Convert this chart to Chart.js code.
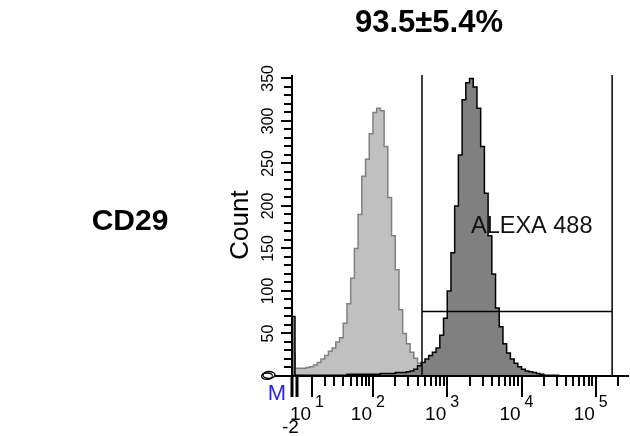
<!DOCTYPE html>
<html>
<head>
<meta charset="utf-8">
<script src="https://cdn.jsdelivr.net/npm/chart.js@4.4.0/dist/chart.umd.min.js"></script>
<style>
  html, body { margin: 0; padding: 0; background: #fff; }
  #contenedor { width: 630px; height: 436px; position: relative; }
</style>
</head>
<body>
<div id="contenedor"><canvas id="histograma"></canvas></div>
<script>
// bordes de los canales (unidades log10 del eje)
const binEdges = [
  0.90, 0.95, 1.00, 1.05, 1.10, 1.15, 1.20, 1.25, 1.30, 1.35,
  1.40, 1.45, 1.50, 1.55, 1.60, 1.65, 1.70, 1.75, 1.80, 1.85,
  1.90, 1.95, 2.00, 2.05, 2.10, 2.15, 2.20, 2.25, 2.30, 2.35,
  2.40, 2.45, 2.50, 2.55, 2.60, 2.65, 2.70, 2.75, 2.80, 2.85,
  2.90, 2.95, 3.00, 3.05, 3.10, 3.15, 3.20, 3.25, 3.30, 3.35,
  3.40, 3.45, 3.50, 3.55, 3.60, 3.65, 3.70, 3.75, 3.80, 3.85,
  3.90, 3.95, 4.00, 4.05, 4.10, 4.15, 4.20, 4.25, 4.30, 4.35,
  4.40, 4.45, 4.50
];
// control de isotipo (gris claro)
const isotypeCounts = [
  28, 9, 9, 9, 10, 11, 13, 16, 20, 24,
  29, 33, 40, 45, 62, 85, 115, 150, 190, 235,
  255, 285, 310, 315, 312, 270, 210, 165, 125, 78,
  50, 38, 28, 21, 15, 12, 10, 8, 7, 6,
  4, 3, 2, 1, 0
];
// CD29 ALEXA 488 (gris oscuro)
const cd29Counts = [
  70, 1, 1, 1, 1, 1, 1, 1, 1, 1,
  1, 1, 1, 1, 1, 2, 2, 2, 2, 2,
  2, 2, 2, 2, 3, 3, 3, 3, 4, 4,
  4, 5, 6, 8, 12, 16, 20, 24, 28, 33,
  48, 68, 100, 145, 200, 260, 325, 345, 350, 340,
  315, 270, 215, 165, 120, 80, 58, 38, 27, 20,
  15, 11, 8, 6, 5, 4, 3, 2, 1, 1,
  1, 1, 0
];

const gateLow = 2.66;
const gateHigh = 5.22;
const gateCount = 76;
const markerPos = 0.60;

const xMin = 0.91, xMax = 5.42;
const yMax = 354;
const yTickLabels = [0, 50, 100, 150, 200, 250, 300, 350];
const xMajorPos = [1.18, 2, 3, 4, 5];
const xMajorExp = ['1', '2', '3', '4', '5'];
const xFirstDecadeMinor = [1.36, 1.48, 1.60, 1.70, 1.78, 1.85, 1.90, 1.95];
const xZeroTicks = [0.915, 0.975];

const fuente = '"Liberation Sans", Arial, sans-serif';

const puntos = (conteos) => conteos.map((c, i) => ({ x: binEdges[i], y: c }));

const dibujarEjes = {
  id: 'dibujarEjes',
  afterDraw(chart) {
    const ctx = chart.ctx;
    const xs = chart.scales.x;
    const ys = chart.scales.y;
    const area = chart.chartArea;
    const base = Math.round(ys.getPixelForValue(0));
    ctx.save();
    ctx.strokeStyle = '#000';
    ctx.fillStyle = '#000';
    ctx.lineWidth = 2;

    // eje Y
    ctx.beginPath();
    ctx.moveTo(area.left, ys.getPixelForValue(yMax));
    ctx.lineTo(area.left, base + 1);
    ctx.stroke();
    for (let v = 0; v <= 350; v += 10) {
      const py = Math.round(ys.getPixelForValue(v));
      const len = v % 50 === 0 ? 11 : 8;
      ctx.beginPath();
      ctx.moveTo(area.left - len, py);
      ctx.lineTo(area.left, py);
      ctx.stroke();
    }
    ctx.font = '16px ' + fuente;
    ctx.textAlign = 'center';
    ctx.textBaseline = 'middle';
    yTickLabels.forEach(v => {
      const py = ys.getPixelForValue(v);
      ctx.save();
      ctx.translate(area.left - 23, py);
      ctx.rotate(-Math.PI / 2);
      ctx.fillText(String(v), 0, 0);
      ctx.restore();
    });

    // eje X
    const mx = xs.getPixelForValue(markerPos);
    ctx.beginPath();
    ctx.moveTo(mx + 6, base);
    ctx.lineTo(area.right + 2, base);
    ctx.stroke();
    ctx.lineWidth = 1.5;
    ctx.beginPath();
    ctx.ellipse(mx, base - 1, 6, 3.5, 0, 0, Math.PI * 2);
    ctx.stroke();
    ctx.lineWidth = 2;

    const marca = (pos, len, w) => {
      const px = Math.round(xs.getPixelForValue(pos));
      ctx.lineWidth = w;
      ctx.beginPath();
      ctx.moveTo(px, base);
      ctx.lineTo(px, base + len);
      ctx.stroke();
    };
    xZeroTicks.forEach(p => marca(p, 21, 3));
    xFirstDecadeMinor.forEach(p => marca(p, 10, 2));
    for (let d = 2; d <= 4; d++) {
      for (let k = 2; k <= 9; k++) marca(d + Math.log10(k), 10, 2);
    }
    marca(5 + Math.log10(2), 10, 2);
    xMajorPos.forEach(p => marca(p, 21, 2));

    xMajorPos.forEach((p, i) => {
      const px = xs.getPixelForValue(p);
      ctx.font = '19px ' + fuente;
      ctx.textAlign = 'right';
      ctx.textBaseline = 'alphabetic';
      ctx.fillText('10', px - 1, base + 44);
      ctx.font = '16px ' + fuente;
      ctx.textAlign = 'left';
      ctx.fillText(xMajorExp[i], px + 3, base + 31);
    });
    ctx.font = '19px ' + fuente;
    ctx.textAlign = 'center';
    ctx.fillText('-2', xs.getPixelForValue(xZeroTicks[0]) - 2, base + 57);

    ctx.fillStyle = '#1f1fff';
    ctx.font = '22px ' + fuente;
    ctx.textBaseline = 'middle';
    ctx.fillText('M', mx + 8, base + 18);

    // textos
    ctx.fillStyle = '#000';
    ctx.font = 'bold 31px ' + fuente;
    ctx.textAlign = 'center';
    ctx.fillText('93.5±5.4%', 429, 23);
    ctx.font = 'bold 30px ' + fuente;
    ctx.fillText('CD29', 130, 222);

    ctx.font = '26px ' + fuente;
    ctx.save();
    ctx.translate(241, 225);
    ctx.rotate(-Math.PI / 2);
    ctx.fillText('Count', 0, 0);
    ctx.restore();

    ctx.fillStyle = '#111';
    ctx.font = '23.5px ' + fuente;
    ctx.textAlign = 'left';
    ctx.fillText('ALEXA 488', 471, 227);
    ctx.restore();
  }
};

const ctxHist = document.getElementById('histograma').getContext('2d');
const histograma = new Chart(ctxHist, {
  type: 'line',
  data: {
    datasets: [
      {
        label: 'Gate izq',
        data: [{ x: gateLow, y: yMax }, { x: gateLow, y: 0 }],
        borderColor: '#000', borderWidth: 1.5, pointRadius: 0, fill: false, order: 0
      },
      {
        label: 'Gate der',
        data: [{ x: gateHigh, y: yMax }, { x: gateHigh, y: 0 }],
        borderColor: '#000', borderWidth: 1.5, pointRadius: 0, fill: false, order: 0
      },
      {
        label: 'Gate barra',
        data: [{ x: gateLow, y: gateCount }, { x: gateHigh, y: gateCount }],
        borderColor: '#000', borderWidth: 1.5, pointRadius: 0, fill: false, order: 0
      },
      {
        label: 'CD29',
        data: puntos(cd29Counts),
        stepped: true,
        fill: 'origin',
        backgroundColor: '#808080',
        borderColor: '#000',
        borderWidth: 1.5,
        pointRadius: 0,
        order: 1
      },
      {
        label: 'Isotipo',
        data: puntos(isotypeCounts),
        stepped: true,
        fill: 'origin',
        backgroundColor: '#c0c0c0',
        borderColor: '#808080',
        borderWidth: 1.5,
        pointRadius: 0,
        order: 2
      }
    ]
  },
  options: {
    responsive: true,
    maintainAspectRatio: false,
    animation: false,
    layout: { padding: { left: 292, right: 3, top: 75, bottom: 60 } },
    scales: {
      x: { type: 'linear', min: xMin, max: xMax, display: false },
      y: { min: 0, max: yMax, display: false }
    },
    plugins: {
      legend: { display: false },
      tooltip: { enabled: false }
    }
  },
  plugins: [dibujarEjes]
});
</script>
</body>
</html>
